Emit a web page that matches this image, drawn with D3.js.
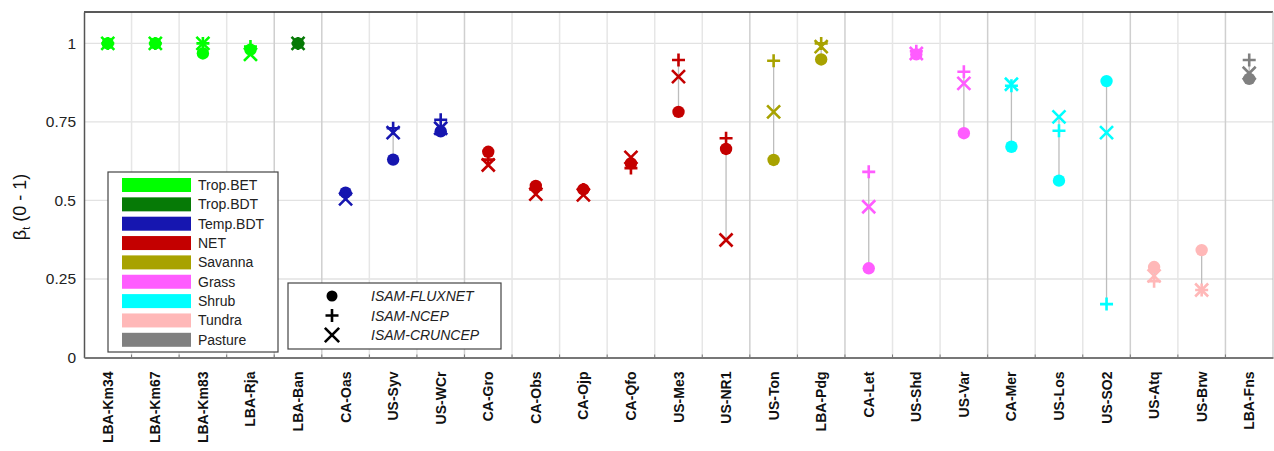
<!DOCTYPE html>
<html>
<head>
<meta charset="utf-8">
<script src="https://cdn.jsdelivr.net/npm/d3@7"></script>
<style>
  html, body { margin: 0; padding: 0; background: #fff; }
  svg { display: block; font-family: Arial, "Liberation Sans", Helvetica, sans-serif; }
</style>
</head>
<body>
<svg id="chart" width="1274" height="451"></svg>
<script>
// Flux tower sites, in plotting order
const sites = ["LBA-Km34","LBA-Km67","LBA-Km83","LBA-Rja","LBA-Ban","CA-Oas","US-Syv","US-WCr",
  "CA-Gro","CA-Obs","CA-Ojp","CA-Qfo","US-Me3","US-NR1","US-Ton","LBA-Pdg","CA-Let","US-Shd",
  "US-Var","CA-Mer","US-Los","US-SO2","US-Atq","US-Brw","LBA-Fns"];

// Plant functional type of each site
const sitePft = ["Trop.BET","Trop.BET","Trop.BET","Trop.BET","Trop.BDT","Temp.BDT","Temp.BDT","Temp.BDT",
  "NET","NET","NET","NET","NET","NET","Savanna","Savanna","Grass","Grass",
  "Grass","Shrub","Shrub","Shrub","Tundra","Tundra","Pasture"];

// beta_t per site for the three forcing datasets
const fluxnet = [1.0, 1.0, 0.968, 0.98, 1.0, 0.525, 0.63, 0.72, 0.655, 0.546, 0.535, 0.618, 0.782, 0.664,
  0.629, 0.949, 0.284, 0.965, 0.714, 0.671, 0.563, 0.88, 0.288, 0.342, 0.887];
const ncep = [1.0, 1.0, 1.0, 0.99, 1.0, 0.52, 0.73, 0.757, 0.63, 0.535, 0.535, 0.603, 0.947, 0.698,
  0.945, 1.0, 0.591, 0.975, 0.91, 0.865, 0.722, 0.17, 0.243, 0.215, 0.947];
const cruncep = [1.0, 1.0, 1.0, 0.965, 1.0, 0.505, 0.716, 0.73, 0.613, 0.52, 0.518, 0.637, 0.894, 0.374,
  0.782, 0.99, 0.48, 0.968, 0.873, 0.87, 0.766, 0.716, 0.26, 0.215, 0.905];

const pftNames = ["Trop.BET","Trop.BDT","Temp.BDT","NET","Savanna","Grass","Shrub","Tundra","Pasture"];
const pftColors = ["#00ff00","#067a06","#1616b0","#c40000","#a8a200","#ff5cff","#00ffff","#ffb8b8","#808080"];

const yTicks = [0, 0.25, 0.5, 0.75, 1];
const yTickLabels = ["0", "0.25", "0.5", "0.75", "1"];
const datasetNames = ["ISAM-FLUXNET", "ISAM-NCEP", "ISAM-CRUNCEP"];

const svg = d3.select("#chart");
const L = 84, R = 1273, T = 12, B = 357.5;

const x = d3.scaleBand().domain(sites).range([L, R]).padding(0);
const y = d3.scaleLinear().domain([0, 1.1]).range([B, T]);
const color = d3.scaleOrdinal().domain(pftNames).range(pftColors);

// Grid: horizontal at ticks, vertical at site boundaries (darker where the PFT changes)
svg.append("g").selectAll("line").data(yTicks.filter(d => d > 0)).join("line")
  .attr("x1", L).attr("x2", R).attr("y1", d => y(d)).attr("y2", d => y(d))
  .attr("stroke", "#e2e2e2").attr("stroke-width", 1.3);

svg.append("g").selectAll("line").data(sites.slice(1)).join("line")
  .attr("x1", d => x(d)).attr("x2", d => x(d)).attr("y1", T).attr("y2", B)
  .attr("stroke", (d, i) => sitePft[i + 1] !== sitePft[i] ? "#cfcfcf" : "#e6e6e6")
  .attr("stroke-width", 1.5);

// Frame
svg.append("line").attr("x1", L).attr("x2", R).attr("y1", T).attr("y2", T)
  .attr("stroke", "#222").attr("stroke-width", 1.5);
svg.append("line").attr("x1", R).attr("x2", R).attr("y1", T).attr("y2", B)
  .attr("stroke", "#bbb").attr("stroke-width", 1);

// Y axis
const yAxis = svg.append("g").attr("transform", `translate(${L},0)`)
  .call(d3.axisLeft(y).tickValues(yTicks).tickFormat((d, i) => yTickLabels[i]).tickSize(0).tickPadding(8));
yAxis.select(".domain").attr("stroke", "#555").attr("stroke-width", 1.5);
yAxis.selectAll("text").attr("font-size", 15.5).attr("fill", "#222")
  .attr("font-family", "Arial, 'Liberation Sans', sans-serif");

// X axis
const xAxis = svg.append("g").attr("transform", `translate(0,${B})`)
  .call(d3.axisBottom(x).tickSize(0).tickPadding(0));
xAxis.select(".domain").attr("stroke", "#777").attr("stroke-width", 2);
xAxis.selectAll("text")
  .attr("font-size", 14).attr("font-weight", "bold").attr("fill", "#111")
  .attr("text-anchor", "end").attr("dy", null)
  .attr("transform", "translate(5,14) rotate(-90)");
// small ticks at site boundaries
svg.append("g").selectAll("line").data(sites.slice(1)).join("line")
  .attr("x1", d => x(d)).attr("x2", d => x(d)).attr("y1", B - 3).attr("y2", B)
  .attr("stroke", "#777").attr("stroke-width", 1);

// Y title
const yt = svg.append("text").attr("transform", "translate(26,207) rotate(-90)")
  .attr("text-anchor", "middle").attr("font-size", 18).attr("fill", "#111");
yt.append("tspan").text("β");
yt.append("tspan").attr("font-size", 11).attr("dy", 4).text("t");
yt.append("tspan").attr("dy", -4).text(" (0 - 1)");

// Marker helpers
const half = 6.5;
const plusPath = `M${-half},0H${half}M0,${-half}V${half}`;
const xPath = `M${-half},${-half}L${half},${half}M${-half},${half}L${half},${-half}`;

const rows = sites.map((s, i) => ({ site: s, pft: sitePft[i], f: fluxnet[i], n: ncep[i], c: cruncep[i] }));

// Range line per site
svg.append("g").selectAll("line").data(rows).join("line")
  .attr("x1", d => x(d.site) + x.bandwidth() / 2).attr("x2", d => x(d.site) + x.bandwidth() / 2)
  .attr("y1", d => y(Math.max(d.f, d.n, d.c))).attr("y2", d => y(Math.min(d.f, d.n, d.c)))
  .attr("stroke", "#bdbdbd").attr("stroke-width", 1.3);

const marks = svg.append("g");
marks.selectAll("circle").data(rows).join("circle")
  .attr("cx", d => x(d.site) + x.bandwidth() / 2).attr("cy", d => y(d.f)).attr("r", 6.2)
  .attr("fill", d => color(d.pft));
marks.selectAll("path.plus").data(rows).join("path").attr("class", "plus")
  .attr("d", plusPath)
  .attr("transform", d => `translate(${x(d.site) + x.bandwidth() / 2},${y(d.n)})`)
  .attr("stroke", d => color(d.pft)).attr("stroke-width", 2.6).attr("fill", "none");
marks.selectAll("path.cross").data(rows).join("path").attr("class", "cross")
  .attr("d", xPath)
  .attr("transform", d => `translate(${x(d.site) + x.bandwidth() / 2},${y(d.c)})`)
  .attr("stroke", d => color(d.pft)).attr("stroke-width", 2.6).attr("fill", "none");

// PFT legend
const lg = svg.append("g").attr("transform", "translate(108,172)");
lg.append("rect").attr("width", 170).attr("height", 180)
  .attr("fill", "#fff").attr("stroke", "#444").attr("stroke-width", 1.2);
const li = lg.selectAll("g").data(pftNames).join("g")
  .attr("transform", (d, i) => `translate(0,${13 + i * 19.35})`);
li.append("rect").attr("x", 14).attr("y", -7).attr("width", 69).attr("height", 14)
  .attr("fill", d => color(d));
li.append("text").attr("x", 90).attr("y", 5).attr("font-size", 14).attr("fill", "#222").text(d => d);

// Dataset legend
const lg2 = svg.append("g").attr("transform", "translate(288,283)");
lg2.append("rect").attr("width", 213).attr("height", 66)
  .attr("fill", "#fff").attr("stroke", "#444").attr("stroke-width", 1.2);
const mi = lg2.selectAll("g").data(datasetNames).join("g")
  .attr("transform", (d, i) => `translate(0,${13 + i * 19.5})`);
mi.filter((d, i) => i === 0).append("circle").attr("cx", 44).attr("cy", 0).attr("r", 5.5).attr("fill", "#000");
mi.filter((d, i) => i === 1).append("path").attr("d", plusPath).attr("transform", "translate(44,0)")
  .attr("stroke", "#000").attr("stroke-width", 2.6).attr("fill", "none");
mi.filter((d, i) => i === 2).append("path").attr("d", xPath).attr("transform", "translate(44,0) scale(1.1)")
  .attr("stroke", "#000").attr("stroke-width", 2.4).attr("fill", "none");
mi.append("text").attr("x", 83).attr("y", 5).attr("font-size", 14).attr("font-style", "italic")
  .attr("fill", "#222").text(d => d);
</script>
</body>
</html>
